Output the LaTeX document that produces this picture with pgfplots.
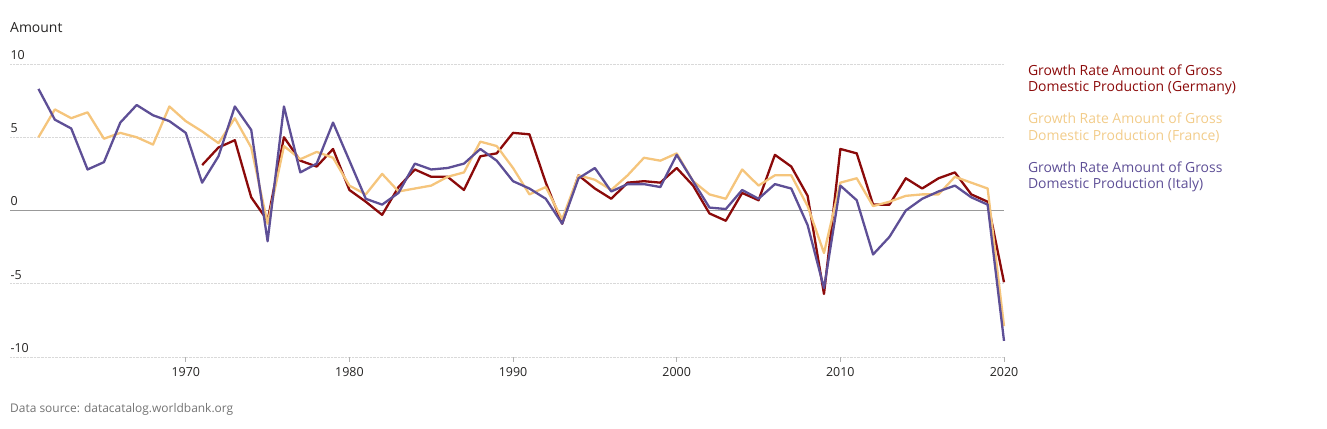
\documentclass[border=0pt]{standalone}
\usepackage{pgfplots}
\pgfplotsset{compat=1.18}
\usepackage{fontspec}
\setmainfont{Open Sans}
\definecolor{cde}{HTML}{8B0A0A}
\definecolor{cfr}{HTML}{F5C57C}
\definecolor{cit}{HTML}{5E4F96}
\definecolor{cfrtxt}{HTML}{F2CC8A}
\definecolor{cgrid}{HTML}{D9D9D9}
\definecolor{ctxt}{HTML}{252423}
\begin{document}
\begin{tikzpicture}
\useasboundingbox (0bp,0bp) rectangle (1327bp,429bp);
\node[anchor=west, font=\fontsize{14}{16}\selectfont, text=ctxt, inner sep=0] at (10bp,401bp) {Amount};
\node[anchor=west, font=\fontsize{12}{14}\selectfont, text=black!55, inner sep=0] at (10bp,20bp) {Data source: datacatalog.worldbank.org};
\begin{axis}[
  at={(10bp,72bp)}, anchor=south west,
  scale only axis, width=994bp, height=293bp,
  xmin=1959.26, xmax=2020, ymin=-10, ymax=10,
  clip=false,
  axis x line=bottom, axis y line=left,
  axis line style={draw=none},
  xtick={1970,1980,1990,2000,2010,2020},
  ytick={-10,-5,0,5,10},
  xticklabels={1970,1980,1990,2000,2010,2020},
  yticklabels={-10,-5,0,5,10},
  tick align=outside,
  major tick length=5bp,
  xtick style={draw=black!30, line width=0.6bp},
  ytick style={draw=none},
  ymajorgrids,
  major grid style={densely dotted, draw=cgrid, line width=0.8bp},
  extra y ticks={0},
  extra y tick labels={},
  extra y tick style={ymajorgrids=true, major grid style={solid, draw=black!40, line width=1.1bp}},
  tick label style={font=\fontsize{12.5}{14}\selectfont, text=ctxt},
  /pgf/number format/assume math mode=true,
  yticklabel style={anchor=south west, xshift=2bp, yshift=1bp},
  xticklabel style={yshift=-2bp},
  legend image code/.code={},
  legend cell align=left,
  legend style={draw=none, fill=none, at={(axis description cs:1.022,1.006)}, anchor=north west,
    font=\fontsize{14}{16.5}\selectfont, inner sep=0pt, row sep=16bp,
    cells={align=left, inner sep=0pt}},
  every axis plot/.append style={line width=2.3bp, line join=round},
]
\addplot[cde] coordinates {
(1971,3.1)(1972,4.3)(1973,4.8)(1974,0.9)(1975,-0.7)(1976,5.0)(1977,3.4)(1978,3.0)(1979,4.2)(1980,1.4)
(1981,0.6)(1982,-0.3)(1983,1.6)(1984,2.8)(1985,2.3)(1986,2.3)(1987,1.4)(1988,3.7)(1989,3.9)(1990,5.3)
(1991,5.2)(1992,1.9)(1993,-0.9)(1994,2.4)(1995,1.5)(1996,0.8)(1997,1.9)(1998,2.0)(1999,1.9)(2000,2.9)
(2001,1.7)(2002,-0.2)(2003,-0.7)(2004,1.2)(2005,0.7)(2006,3.8)(2007,3.0)(2008,1.0)(2009,-5.7)(2010,4.2)
(2011,3.9)(2012,0.4)(2013,0.4)(2014,2.2)(2015,1.5)(2016,2.2)(2017,2.6)(2018,1.1)(2019,0.6)(2020,-4.9)};
\addlegendentry[text=cde]{Growth Rate Amount of Gross\\Domestic Production (Germany)}
\addplot[cfr] coordinates {
(1961,5.0)(1962,6.9)(1963,6.3)(1964,6.7)(1965,4.9)(1966,5.3)(1967,5.0)(1968,4.5)(1969,7.1)(1970,6.1)
(1971,5.4)(1972,4.6)(1973,6.3)(1974,4.3)(1975,-0.9)(1976,4.4)(1977,3.5)(1978,4.0)(1979,3.6)(1980,1.7)
(1981,1.1)(1982,2.5)(1983,1.3)(1984,1.5)(1985,1.7)(1986,2.3)(1987,2.6)(1988,4.7)(1989,4.4)(1990,2.9)
(1991,1.1)(1992,1.6)(1993,-0.6)(1994,2.4)(1995,2.1)(1996,1.4)(1997,2.4)(1998,3.6)(1999,3.4)(2000,3.9)
(2001,2.0)(2002,1.1)(2003,0.8)(2004,2.8)(2005,1.7)(2006,2.4)(2007,2.4)(2008,0.3)(2009,-2.9)(2010,1.9)
(2011,2.2)(2012,0.3)(2013,0.6)(2014,1.0)(2015,1.1)(2016,1.1)(2017,2.3)(2018,1.9)(2019,1.5)(2020,-7.9)};
\addlegendentry[text=cfrtxt]{Growth Rate Amount of Gross\\Domestic Production (France)}
\addplot[cit] coordinates {
(1961,8.3)(1962,6.2)(1963,5.6)(1964,2.8)(1965,3.3)(1966,6.0)(1967,7.2)(1968,6.5)(1969,6.1)(1970,5.3)
(1971,1.9)(1972,3.7)(1973,7.1)(1974,5.5)(1975,-2.1)(1976,7.1)(1977,2.6)(1978,3.2)(1979,6.0)(1980,3.4)
(1981,0.8)(1982,0.4)(1983,1.2)(1984,3.2)(1985,2.8)(1986,2.9)(1987,3.2)(1988,4.2)(1989,3.4)(1990,2.0)
(1991,1.5)(1992,0.8)(1993,-0.9)(1994,2.2)(1995,2.9)(1996,1.3)(1997,1.8)(1998,1.8)(1999,1.6)(2000,3.8)
(2001,2.0)(2002,0.2)(2003,0.1)(2004,1.4)(2005,0.8)(2006,1.8)(2007,1.5)(2008,-1.0)(2009,-5.3)(2010,1.7)
(2011,0.7)(2012,-3.0)(2013,-1.8)(2014,0.0)(2015,0.8)(2016,1.3)(2017,1.7)(2018,0.9)(2019,0.4)(2020,-8.9)};
\addlegendentry[text=cit]{Growth Rate Amount of Gross\\Domestic Production (Italy)}
\end{axis}
\end{tikzpicture}
\end{document}
